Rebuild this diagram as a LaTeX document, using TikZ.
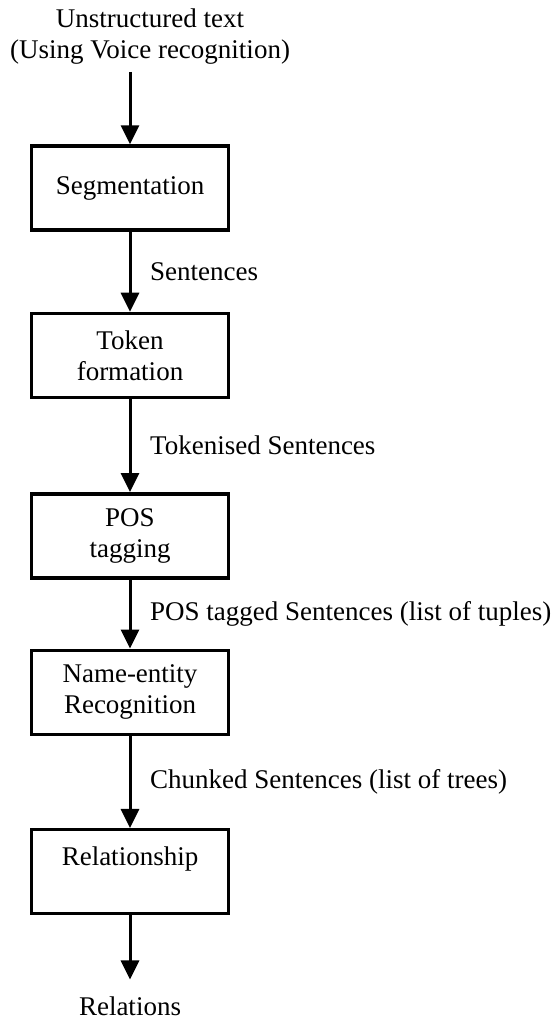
\documentclass[tikz,border=0pt]{standalone}
\usepackage{fontspec}
\setmainfont{Liberation Serif}
\usepackage{tikz}
\usetikzlibrary{arrows.meta, positioning}
\tikzset{
  stepbox/.style={
    rectangle, draw=black, line width=1.7pt,
    minimum width=98.5pt, minimum height=42pt,
    align=center, font=\fontsize{13.5}{15.5}\selectfont
  },
  plain/.style={align=center, font=\fontsize{13.5}{15.5}\selectfont},
  flowlabel/.style={right=6pt, font=\fontsize{13.5}{15.5}\selectfont},
  arrow/.style={line width=1.5pt, -{Triangle[length=9.5pt,width=9pt]}},
}
\begin{document}
\begin{tikzpicture}
  \useasboundingbox (0,0) rectangle (278.5pt,-509.5pt);

  % --- Entrada ---
  \node (input) [plain] at (75pt,-18.5pt) {Unstructured text\\(Using Voice recognition)};

  % --- Etapas del proceso ---
  \node (seg) [stepbox] at (65pt,-94pt) {Segmentation};
  \node (tok) [stepbox, below=40pt of seg] {Token\\formation};
  \node (pos) [stepbox, below=46.5pt of tok] {POS\\tagging};
  \node (ner) [stepbox, below=34.5pt of pos] {Name-entity\\Recognition};
  \node (rel) [stepbox, below=46pt of ner] {Relationship\\\mbox{}};

  % --- Salida ---
  \node (output) [plain] at (65pt,-503pt) {Relations};

  % --- Flechas ---
  \draw[arrow] (input.south -| seg.north) -- (seg);
  \draw[arrow] (seg) -- node[flowlabel]{Sentences} (tok);
  \draw[arrow] (tok) -- node[flowlabel]{Tokenised Sentences} (pos);
  \draw[arrow] (pos) -- node[flowlabel]{POS tagged Sentences (list of tuples)} (ner);
  \draw[arrow] (ner) -- node[flowlabel]{Chunked Sentences (list of trees)} (rel);
  \draw[arrow, shorten >=5pt] (rel) -- (output);

\end{tikzpicture}
\end{document}
